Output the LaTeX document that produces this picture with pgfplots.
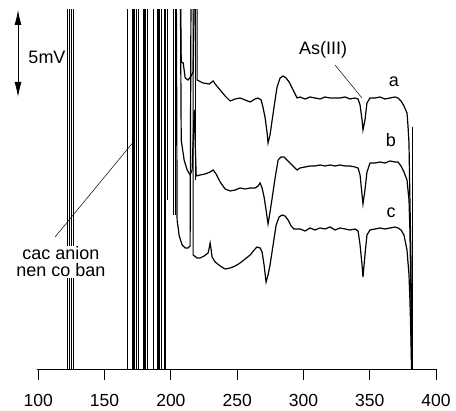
\documentclass[border=0pt]{standalone}
\usepackage{fontspec}
\setmainfont{Liberation Sans}
\usepackage{pgfplots}
\pgfplotsset{compat=1.18}
\usetikzlibrary{arrows.meta}

\newcommand{\lab}{\fontsize{18}{17}\selectfont}

\begin{document}
\begin{tikzpicture}[x=1pt,y=1pt]
\path[use as bounding box] (0,0) rectangle (456,411);
\begin{axis}[
    at={(36.7pt,42pt)}, anchor=south west,
    scale only axis,
    width=400pt, height=359pt,
    xmin=98.8, xmax=400.5,
    ymin=0, ymax=359,
    axis x line=bottom,
    axis y line=none,
    x axis line style={-, line width=0.8pt},
    xtick={100,150,...,400},
    ytick=\empty,
    xtick align=outside,
    major tick length=11pt,
    xtick style={line width=0.8pt, black},
    /pgf/number format/assume math mode=true,
    xticklabel style={font=\fontsize{17.5}{20}\selectfont, inner sep=1pt, yshift=-13pt},
]
% off-scale spikes of the injection region
\addplot[black, line width=1.1pt] coordinates {
    (122.2,420) (122.2,-20) (123.7,-20) (123.7,420)
    (125.2,420) (125.2,-20) (126.8,-20) (126.8,420)
    (167.3,420) (167.3,-20) (171.4,-20) (171.4,420)
    (172.7,420) (172.7,-20) (174.2,-20) (174.2,420)
    (175.7,420) (175.7,-20) (179.1,-20) (179.1,420)
    (179.9,420) (179.9,-20)
    (180.6,-20) (180.6,420) (182.1,420) (182.1,-20)
    (186.7,-20) (186.7,420) (189.7,420) (189.7,-20)
    (190.5,-20) (190.5,420)
    (191.2,420) (191.2,-20) (192.7,-20) (192.7,420)
    (195.0,420) (195.0,-20) (196.1,-20) (196.1,420)
    (197.2,420) (197.2,169) (197.2,420)
    (201.7,420) (201.7,154) (201.7,420)
    (203.2,420) (203.2,154) (203.2,420)
    (218.7,420) (218.7,189) (218.7,420)
};
\addplot[black, line width=1.1pt] coordinates {(382.2,242) (382.2,-20)};
% trace a
\addplot[black, line width=1.2pt] coordinates {
    (207.0,420) (207.8,307) (209.3,306) (210.8,291) (213.0,289) (215.3,293)
    (216.8,297) (218.3,420) (219.8,420) (219.8,289) (224.3,286) (228.9,285)
    (231.9,288) (233.4,285) (237.2,279) (240.9,273) (244.7,268) (248.5,270)
    (252.2,271) (256.0,269) (259.8,267) (263.5,270) (265.8,271) (268.1,269)
    (269.6,261) (271.1,251) (272.6,236) (273.3,226) (274.8,234) (276.4,249)
    (278.6,269) (280.1,282) (282.4,291) (284.6,293) (286.9,291) (289.2,287)
    (292.2,279) (295.2,271) (297.4,272) (301.2,270) (305.0,272) (308.7,271)
    (312.5,270) (316.3,272) (320.1,271) (323.8,271) (327.6,271) (331.4,272)
    (335.1,270) (338.9,271) (341.2,270) (342.7,264) (344.2,249) (344.9,239)
    (346.4,249) (347.9,266) (350.2,271) (354.0,271) (357.7,272) (361.5,270)
    (365.3,271) (369.0,272) (371.3,271) (373.6,268) (375.8,263) (378.1,256)
    (378.8,244) (379.6,226) (380.3,169) (381.1,109) (381.8,-20)
};
% trace b
\addplot[black, line width=1.2pt] coordinates {
    (207.0,420) (207.8,229) (210.0,209) (212.3,199) (214.5,194) (216.0,199)
    (217.6,259) (219.1,193) (222.1,194) (225.8,195) (229.6,197) (231.9,199)
    (234.1,195) (237.2,187) (240.9,180) (244.7,178) (248.5,179) (252.2,181)
    (256.0,180) (259.8,181) (263.5,181) (265.8,183) (267.3,186) (268.8,181)
    (270.3,172) (271.8,159) (273.3,145) (274.8,157) (276.4,171) (278.6,191)
    (280.9,209) (283.1,212) (285.4,212) (287.6,209) (289.9,206) (292.9,202)
    (295.2,199) (297.4,201) (301.2,202) (305.0,203) (308.7,203) (312.5,204)
    (316.3,203) (320.1,204) (323.8,203) (327.6,204) (331.4,203) (335.1,203)
    (338.9,202) (341.2,201) (342.7,194) (344.2,174) (344.9,165) (346.4,179)
    (347.9,197) (350.2,206) (354.0,206) (357.7,207) (361.5,206) (365.3,208)
    (369.0,207) (371.3,207) (373.6,203) (375.8,197) (378.1,189) (379.6,169)
    (380.3,139) (381.1,69) (381.8,-20)
};
% trace c
\addplot[black, line width=1.2pt] coordinates {
    (204.0,420) (204.7,149) (206.3,133) (208.5,124) (210.8,121) (213.0,121)
    (214.5,123) (215.3,420) (216.8,420) (216.8,114) (219.8,111) (222.1,111)
    (225.1,113) (228.1,116) (228.9,121) (229.6,126) (230.4,119) (231.1,112)
    (233.4,107) (237.2,103) (240.9,100) (244.7,101) (248.5,103) (252.2,106)
    (256.0,110) (259.8,114) (262.8,119) (265.0,122) (267.3,121) (268.8,117)
    (270.3,104) (271.8,87) (273.3,94) (274.8,104) (277.1,124) (279.4,144)
    (281.6,152) (283.9,154) (286.1,153) (288.4,149) (290.7,143) (292.9,140)
    (297.4,140) (301.2,138) (305.0,141) (308.7,139) (312.5,141) (316.3,140)
    (320.1,142) (323.8,139) (327.6,141) (331.4,140) (335.1,139) (338.9,140)
    (341.2,138) (342.7,124) (344.2,104) (344.9,92) (346.4,114) (347.9,134)
    (350.2,139) (354.0,140) (357.7,141) (361.5,140) (365.3,141) (369.0,142)
    (371.3,141) (373.6,139) (375.8,134) (378.1,119) (379.6,94) (380.3,69)
    (381.1,29) (381.8,-20)
};
\end{axis}
% scale bar
\draw[line width=0.8pt, {Latex[length=15pt,width=7pt]}-{Latex[length=15pt,width=7pt]}] (18,401) -- (18,314);
\node[font=\lab] at (47,354) {5mV};
% annotations
\node[font=\lab, fill=white, inner sep=1pt, align=center] at (61,149) {cac anion\\nen co ban};
\draw[line width=0.5pt] (55,174) -- (135,271);
\node[font=\lab] at (323,361) {As(III)};
\draw[line width=0.5pt] (335,346) -- (362,313);
\node[font=\lab] at (394,329) {a};
\node[font=\lab] at (391,271) {b};
\node[font=\lab] at (391,198) {c};
\end{tikzpicture}
\end{document}
